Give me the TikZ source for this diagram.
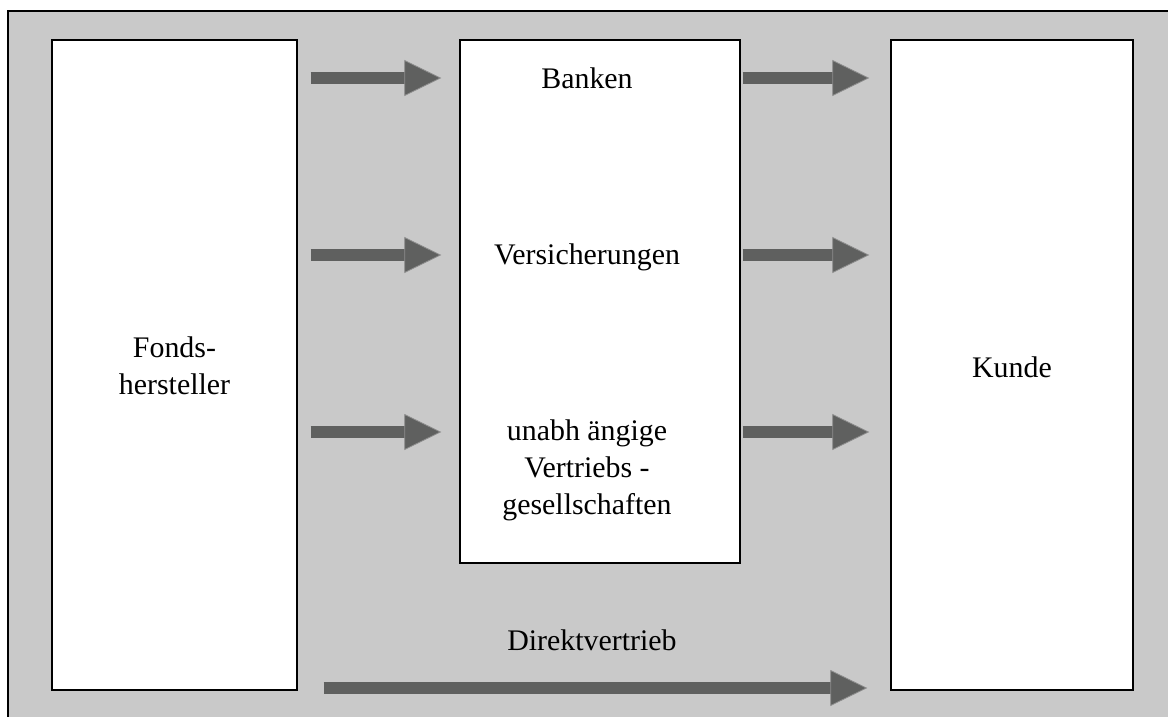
\documentclass[tikz,border=0pt]{standalone}
\usepackage{fontspec}
\setmainfont{Liberation Serif}
\usetikzlibrary{arrows.meta}
\definecolor{hgrau}{HTML}{C9C9C9}
\definecolor{pfeilgrau}{HTML}{5F605F}
\definecolor{randgrau}{HTML}{8E8E8E}

\begin{document}
\begin{tikzpicture}[x=1bp, y=-1bp, font=\fontsize{30}{37}\selectfont,
  box/.style={draw, line width=1.4bp, fill=white, inner sep=0pt},
  lab/.style={align=center, inner sep=0pt},
  pfeil/.style={draw=pfeilgrau, line width=12bp,
    -{Triangle[length=37bp, width=36bp, line width=0.8bp, color=randgrau, fill=pfeilgrau]}}]
  \useasboundingbox (0,0) rectangle (1168,717);
  % grauer Hintergrund, nur links und oben ein Rand
  \fill[hgrau] (8,11) rectangle (1168,717);
  \draw[line width=1.4bp] (8,717) -- (8,11) -- (1168,11);
  % Kaesten
  \node[box, minimum width=245bp, minimum height=650bp] (fonds) at (174.5,365) {};
  \node[box, minimum width=280bp, minimum height=523bp] (vertrieb) at (600,301.5) {};
  \node[box, minimum width=242bp, minimum height=650bp] (kunde) at (1012,365) {};
  % Texte
  \node[lab] (hersteller) at (174.5,366) {Fonds-\\hersteller};
  \node[lab] (banken) at (587,78) {Banken};
  \node[lab] (versich) at (587,257) {Versicherungen};
  \node[lab] (unabh) at (587,470) {unabh ängige\\Vertriebs -\\gesellschaften};
  \node[lab] (kundetext) at (1012,367) {Kunde};
  \node[lab] (direkt) at (592,640) {Direktvertrieb};
  % Zeilen der Pfeile
  \coordinate (r1) at (0,78);
  \coordinate (r2) at (0,255);
  \coordinate (r3) at (0,432);
  \coordinate (r4) at (0,688);
  % Pfeile
  \foreach \r in {r1,r2,r3} {
    \draw[pfeil, shorten <=13bp, shorten >=18bp] (fonds.east |- \r) -- (vertrieb.west |- \r);
    \draw[pfeil, shorten <=2bp, shorten >=21bp] (vertrieb.east |- \r) -- (kunde.west |- \r);
  }
  \draw[pfeil, shorten <=26bp, shorten >=23bp] (fonds.east |- r4) -- (kunde.west |- r4);
\end{tikzpicture}
\end{document}
